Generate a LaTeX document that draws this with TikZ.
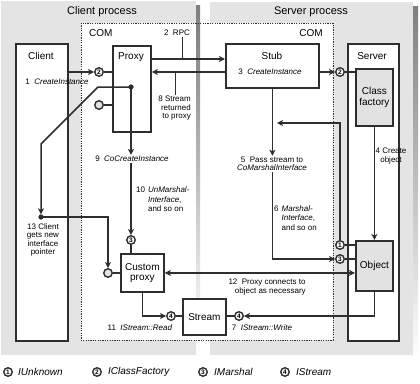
\documentclass[tikz,border=0pt]{standalone}
\usepackage{fontspec}
\setmainfont{Liberation Sans}
\usetikzlibrary{arrows.meta}
\definecolor{ink}{HTML}{2E2E2E}
\definecolor{panel}{HTML}{E4E4E4}
\definecolor{shade}{HTML}{8A8A8A}
\definecolor{boxfill}{HTML}{E2E2E2}
\begin{document}
\begin{tikzpicture}[x=1pt,y=-1pt,
  box/.style={draw=ink, line width=1.8pt, fill=white, inner sep=0pt, anchor=north west,
    align=center, font=\fontsize{10}{10.5}\selectfont},
  graybox/.style={box, fill=boxfill},
  title/.style={font=\fontsize{10}{12}\selectfont, inner sep=0pt},
  head/.style={font=\fontsize{11}{13}\selectfont, inner sep=0pt},
  small/.style={font=\fontsize{8}{8.5}\selectfont, inner sep=1pt},
  legend/.style={font=\fontsize{10}{12}\selectfont\itshape, inner sep=0pt, anchor=west},
  iface/.style={circle, draw=ink, line width=1.4pt, fill=white, minimum size=8.5pt,
    inner sep=0pt, font=\fontsize{6.5}{6.5}\selectfont\bfseries},
  plain/.style={circle, draw=ink, line width=1.4pt, fill=boxfill, minimum size=8.5pt, inner sep=0pt},
  ln/.style={draw=ink, line width=1.5pt},
  tick/.style={draw=ink, line width=0.9pt},
  arr/.style={ln, -{Stealth[length=6pt,width=6pt,inset=1.5pt]}},
  arrtwo/.style={ln, {Stealth[length=6pt,width=6pt,inset=1.5pt]}-{Stealth[length=6pt,width=6pt,inset=1.5pt]}},
  dot/.style={circle, fill=ink, minimum size=5pt, inner sep=0pt},
]
\useasboundingbox (0,0) rectangle (420,383);

% process panels with drop shadows
\fill[shade] (5,5) rectangle (200,360);
\fill[panel] (1,1) rectangle (196,355);
\fill[shade] (214,6) rectangle (418,360);
\fill[panel] (210,2) rectangle (413,355);
% COM area
\fill[white] (81,23) rectangle (333,340);
\fill[shade] (196,23) rectangle (200,340);
\draw[ink, line width=0.8pt, dash pattern=on 1.2pt off 1.2pt] (81,23) rectangle (333,340);

\node[head] (cpT) at (102,12) {Client process};
\node[head] (spT) at (311,12) {Server process};
\node[title, anchor=west] (comL) at (89,33) {COM};
\node[title, anchor=east] (comR) at (323,33) {COM};

% boxes
\node[box, minimum width=52pt, minimum height=297pt] (client) at (15,43) {};
\node[title] (clientT) at (41,56) {Client};
\node[box, minimum width=38pt, minimum height=86pt] (proxy) at (112,45) {};
\node[title] (proxyT) at (131,57) {Proxy};
\node[box, minimum width=93pt, minimum height=44pt] (stub) at (225,43) {};
\node[title] (stubT) at (272,56) {Stub};
\node[small] (s3) at (270,72) {3\ \ \textit{CreateInstance}};
\node[box, minimum width=51pt, minimum height=297pt] (server) at (347,43) {};
\node[title] (serverT) at (372,56) {Server};
\node[graybox, minimum width=37pt, minimum height=57pt] (cf) at (355,68) {Class\\factory};
\node[graybox, minimum width=37pt, minimum height=50pt] (obj) at (355,240) {Object};
\node[box, minimum width=43pt, minimum height=38pt] (cproxy) at (120,253) {Custom\\proxy};
\node[box, minimum width=43pt, minimum height=36pt] (stream) at (182,298) {Stream};

% labels
\node[small] (l1) at (57,82) {1\ \ \textit{CreateInstance}};
\node[small] (lrpc) at (177,33) {2\ \ RPC};
\node[small, align=right, anchor=north east] (l8) at (192,95) {8 Stream\\returned\\to proxy};
\node[small] (l9) at (132,159) {9\ \ \textit{CoCreateInstance}};
\node[small, anchor=north west, font=\fontsize{8}{9.5}\selectfont] (l10) at (135,185)
  {\begin{tabular}{@{}l@{\hspace{3pt}}l@{}}10 & \textit{UnMarshal-}\\ & \textit{Interface},\\ & and so on\end{tabular}};
\node[small, align=center, font=\fontsize{8}{8.3}\selectfont] (l13) at (43,240) {13 Client\\gets new\\interface\\pointer};
\node[small, align=center] (l5) at (272,164) {5\ \ Pass stream to\\\textit{CoMarshalInterface}};
\node[small, anchor=north west, font=\fontsize{8}{9.2}\selectfont] (l6) at (273,204)
  {\begin{tabular}{@{}l@{\hspace{3pt}}l@{}}6 & \textit{Marshal-}\\ & \textit{Interface},\\ & and so on\end{tabular}};
\node[small, align=center] (l4) at (391,156) {4 Create\\object};
\node[small, align=center] (l12) at (267,287) {12\ \ Proxy connects to\\\ \ \ object as necessary};
\node[small] (l11) at (140,328) {11\ \ \textit{IStream::Read}};
\node[small] (l7) at (262,328) {7\ \ \textit{IStream::Write}};

% interface circles and junction dots
\node[iface] (c2p) at (99,72) {2};
\node[plain] (cgp) at (99,105) {};
\node[iface] (c3c) at (131,240) {3};
\node[plain] (cgc) at (108,273) {};
\node[iface] (c4c) at (171,316) {4};
\node[iface] (c4s) at (239,316) {4};
\node[iface] (c2s) at (340,72) {2};
\node[iface] (c1o) at (340,245) {1};
\node[iface] (c3o) at (340,259) {3};
\node[dot] (dotP) at (131,87) {};
\node[dot] (dotC) at (41,217) {};

\coordinate (rpcY) at (0,59);
\coordinate (rpcTick) at (182,59);
\coordinate (retTick) at (175,72);
\coordinate (retTip) at (277,123);
\coordinate (bendA) at (98,87);
\coordinate (bendB) at (41,144);

% connectors
\draw[arr] (client.east |- c2p) -- (c2p);
\draw[ln] (c2p) -- (c2p -| proxy.west);
\draw[ln] (cgp) -- (cgp -| proxy.west);
\draw[arr] (proxy.east |- rpcY) -- (stub.west |- rpcY);
\draw[tick] (rpcTick |- lrpc.south) -- (rpcTick);
\draw[arr] (stub.west |- c2p) -- (proxy.east |- c2p);
\draw[tick] (retTick) -- (retTick |- l8.north);
\draw[arr] (stub.east |- c2s) -- (c2s);
\draw[ln] (c2s) -- (c2s -| cf.west);
\draw[arr] (cf) -- (obj);
\draw[ln] (c1o) -- (c1o -| obj.west);
\draw[ln] (c3o) -- (c3o -| obj.west);
\draw[arr] (c1o.north) |- (retTip);
\draw[arr] (stub.south) -- (stub.south |- l5.north);
\draw[arr] (l5.south -| stub.south) |- (c3o.west);
\draw[arr] (obj.south) |- (c4s.east);
\draw[ln] (c4s) -- (c4s -| stream.east);
\draw[arrtwo] (cproxy.east) -- (cproxy.east -| obj.west);
\draw[arr] (cproxy.south) |- (c4c.west);
\draw[ln] (c4c) -- (c4c -| stream.west);
\draw[ln] (c3c) -- (c3c |- cproxy.north);
\draw[ln] (cgc) -- (cgc -| cproxy.west);
\draw[arr] (dotP.center) -- (dotP |- l9.north);
\draw[arr] (l9.south -| dotP) -- (c3c);
\draw[arr] (dotP.center) -- (bendA) -- (bendB) -- (dotC.north);
\draw[arr] (dotC.center) -| (cgc.north);
\node[dot] at (dotP) {};
\node[dot] at (dotC) {};

% legend
\node[iface] (k1) at (8,372) {1};
\node[legend] (k1t) at (18,372) {IUnknown};
\node[iface] (k2) at (97,372) {2};
\node[legend] (k2t) at (108,372) {IClassFactory};
\node[iface] (k3) at (203,372) {3};
\node[legend] (k3t) at (214,372) {IMarshal};
\node[iface] (k4) at (285,372) {4};
\node[legend] (k4t) at (296,372) {IStream};
\end{tikzpicture}
\end{document}
